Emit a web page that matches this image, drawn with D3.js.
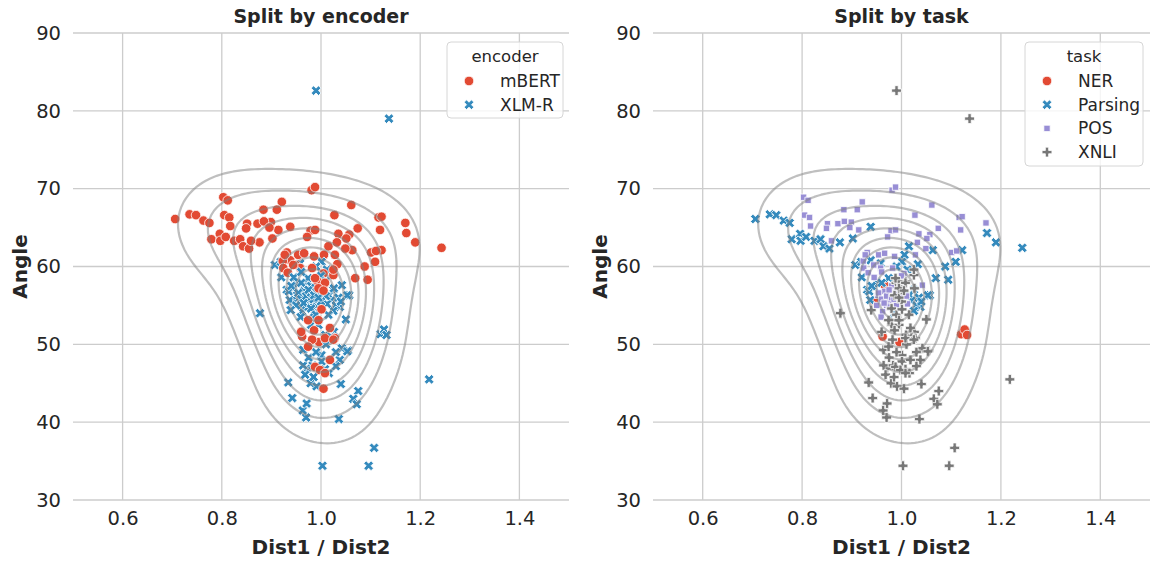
<!DOCTYPE html>
<html><head><meta charset="utf-8">
<script src="https://cdn.jsdelivr.net/npm/d3@7"></script>
<style>body{margin:0;background:#fff}svg{display:block;font-family:"DejaVu Sans",sans-serif}</style>
</head><body><svg id="c" width="1151" height="563"></svg>
<script>
// ---------------- data ----------------
const xTicks = [0.6, 0.8, 1.0, 1.2, 1.4];
const yTicks = [30, 40, 50, 60, 70, 80, 90];
const encoders = ["mBERT", "XLM-R"];
const tasks = ["NER", "Parsing", "POS", "XNLI"];

const mbertNER = [[0.962,51.0],[0.996,50.3]];
const xlmrNER = [[1.12,51.3],[1.127,51.9],[1.132,51.2],[0.966,57.6],[0.946,55.5]];

const mbertParsing = [[0.706,66.1],[0.735,66.7],[0.748,66.6],[0.763,65.9],[0.775,65.6],[0.779,63.5],[0.796,64.2],[0.797,63.3],[0.808,63.8],[0.825,63.3],[0.837,63.5],[0.843,62.6],[0.855,62.3],[0.876,63.1],[0.902,63.6],[0.938,65.1],[1.172,64.3],[1.19,63.1],[1.243,62.4],[1.015,62.6],[1.063,62.1],[1.122,62.1],[1.033,60.3],[1.109,60.6],[1.088,60.0],[1.006,61.5],[1.069,58.5],[1.094,58.3],[0.938,60.8]];
const xlmrParsing = [[0.907,60.2],[0.919,60.6],[0.958,60.4],[1.001,60.6],[1.012,59.6],[0.974,58.5],[1.057,56.3],[0.931,57.0],[0.937,55.7],[1.025,57.0],[1.038,54.8],[1.016,56.3],[1.053,56.3],[0.92,58.6],[0.95,58.0],[0.945,57.3],[0.99,60.0],[0.935,56.8],[0.94,57.5],[1.02,55.6],[1.03,55.0],[1.025,54.3],[1.035,56.0],[0.985,54.0],[0.96,57.9],[1.04,55.5]];

const mbertPOS = [[0.803,68.9],[0.812,68.5],[0.805,66.6],[0.815,66.3],[0.817,65.2],[0.851,65.5],[0.849,64.9],[0.872,65.5],[0.859,63.3],[0.981,69.8],[0.988,70.2],[0.921,68.3],[0.911,67.3],[0.884,67.3],[1.061,67.9],[1.027,66.6],[1.116,66.3],[1.122,66.4],[1.17,65.6],[1.074,64.9],[1.119,64.7],[0.899,65.7],[0.885,65.8],[0.914,64.7],[0.896,65.0],[0.979,64.6],[0.988,64.7],[0.972,63.8],[1.035,64.2],[1.057,64.1],[1.051,63.6],[1.049,62.3],[1.032,63.1],[1.101,61.8],[1.111,62.0],[0.931,61.8],[0.954,61.5],[0.966,61.7],[0.986,61.3],[0.949,60.2],[0.923,60.7],[0.958,59.8],[0.982,59.8],[0.924,59.8],[0.933,59.2],[0.927,61.5],[1.028,61.5],[0.944,60.2],[1.005,59.1]];
const xlmrPOS = [[0.966,56.8],[0.976,55.5],[0.999,55.7],[0.952,56.3],[0.962,54.2],[0.959,53.5],[1.042,57.6],[0.954,56.6],[0.988,56.6],[0.98,57.5],[0.97,55.0],[1.0,56.5],[0.99,55.0],[0.945,58.6],[0.96,59.3],[1.0,58.8],[1.012,55.2],[0.975,54.8],[0.96,55.8],[0.97,56.2],[0.98,56.0],[0.99,56.8],[1.005,57.3],[0.975,57.0],[0.965,55.3],[0.95,55.0],[0.985,55.8],[1.01,56.2]];

const mbertXNLI = [[1.025,58.9],[0.993,58.1],[1.008,57.9],[0.995,57.2],[1.005,56.9],[1.001,54.5],[0.974,53.1],[0.995,53.1],[0.986,51.8],[0.96,51.6],[1.018,52.1],[1.028,50.8],[0.982,50.6],[1.008,50.8],[1.025,50.6],[1.018,48.0],[0.988,47.1],[1.005,44.3],[0.974,49.7],[0.998,46.7],[1.008,46.3],[0.988,58.5],[1.025,59.6]];
const xlmrXNLI = [[0.99,82.6],[1.137,79.0],[1.218,45.5],[1.107,36.7],[1.003,34.4],[1.096,34.4],[1.036,40.4],[0.970,40.6],[0.963,41.5],[0.971,42.4],[0.942,43.1],[0.934,45.1],[0.979,45.0],[0.991,44.6],[1.04,44.9],[1.075,44.0],[1.065,43.0],[1.072,42.3],[0.964,49.3],[1.055,49.2],[1.042,49.5],[1.001,48.6],[1.038,48.0],[1.001,47.8],[0.971,46.9],[0.964,47.3],[1.008,46.8],[0.968,46.1],[0.877,54.0],[0.939,54.4],[1.05,53.2],[1.009,51.2],[1.026,51.6],[1.053,49.1],[0.983,47.3],[1.016,46.3],[0.986,56.3],[1.026,57.2],[0.989,57.9],[1.009,58.1],[0.98,52.5],[1.0,55.5],[0.975,48.3],[0.99,49.0],[1.03,47.2],[0.985,45.8],[0.995,56.0],[1.0,57.0],[0.98,54.6],[0.99,53.8],[1.015,53.8],[0.995,52.5],[1.02,51.0],[1.01,50.0],[1.03,49.0]];

// draw order: by task, then encoder
const groups = [
  {enc:"mBERT", task:"NER", pts:mbertNER},
  {enc:"XLM-R", task:"NER", pts:xlmrNER},
  {enc:"mBERT", task:"Parsing", pts:mbertParsing},
  {enc:"XLM-R", task:"Parsing", pts:xlmrParsing},
  {enc:"mBERT", task:"POS", pts:mbertPOS},
  {enc:"XLM-R", task:"POS", pts:xlmrPOS},
  {enc:"XLM-R", task:"XNLI", pts:xlmrXNLI},
  {enc:"mBERT", task:"XNLI", pts:mbertXNLI}
];
const rows = groups.flatMap(g => g.pts.map(p => ({x:p[0], y:p[1], enc:g.enc, task:g.task})));

// ---------------- styles ----------------
const palette = ["#E24A33", "#348ABD", "#988ED5", "#777777"];
const shapes = ["o", "X", "s", "P"];
const textColor = "#262626";
function symPath(shape) {
  if (shape === "o") return d3.symbol(d3.symbolCircle, 72)();
  if (shape === "X") return d3.symbol(d3.symbolCross, 60)();
  if (shape === "s") return d3.symbol(d3.symbolSquare, 40)();
  return d3.symbol(d3.symbolCross, 54)();
}
function symRot(shape) { return shape === "X" ? 45 : 0; }

const svg = d3.select("#c");
const yTop = 33, yBot = 500;
const panels = [
  {x0:73, x1:569, title:"Split by encoder", key:"enc", cats:encoders, legendTitle:"encoder",
   legend:{x:447, y:42, w:116, h:76}},
  {x0:653, x1:1150, title:"Split by task", key:"task", cats:tasks, legendTitle:"task",
   legend:{x:1025, y:42, w:118, h:124}}
];

// ---------------- KDE (product gaussian kernel, widened Scott bandwidth, equally spaced levels) ----------------
const bwAdjustX = 2.1, bwAdjustY = 1.6;
const n = rows.length;
const sdx = d3.deviation(rows, d => d.x), sdy = d3.deviation(rows, d => d.y);
const fac = Math.pow(n, -1/6);
const bwx = sdx * fac * bwAdjustX, bwy = sdy * fac * bwAdjustY;
const norm = 1 / (n * 2 * Math.PI * bwx * bwy);
const G = 140, cut = 3;
const gx0 = d3.min(rows, d=>d.x) - cut*bwx, gx1 = d3.max(rows, d=>d.x) + cut*bwx;
const gy0 = d3.min(rows, d=>d.y) - cut*bwy, gy1 = d3.max(rows, d=>d.y) + cut*bwy;
const dgx = (gx1-gx0)/(G-1), dgy = (gy1-gy0)/(G-1);
const dens = new Float64Array(G*G);
for (let j = 0; j < G; j++) {
  const yv = gy0 + j*dgy;
  for (let i = 0; i < G; i++) {
    const xv = gx0 + i*dgx;
    let s = 0;
    for (let k = 0; k < n; k++) {
      const ux = (xv - rows[k].x)/bwx, uy = (yv - rows[k].y)/bwy;
      s += Math.exp(-0.5*(ux*ux + uy*uy));
    }
    dens[j*G+i] = s * norm;
  }
}
const zmin = d3.min(dens), zmax = d3.max(dens);
const raw = (zmax - zmin) / 11;
const mag = Math.pow(10, Math.floor(Math.log10(raw)));
const step = [1, 2, 2.5, 5, 10].map(s => s*mag).find(s => s >= raw);
const levels = d3.range(Math.floor(zmin/step)*step, zmax + step, step).filter(l => l > zmin && l < zmax);
const contourSets = d3.contours().size([G, G]).thresholds(levels)(dens);

// ---------------- panels ----------------
panels.forEach((P, pi) => {
  const x = d3.scaleLinear().domain([0.5, 1.5]).range([P.x0, P.x1]);
  const y = d3.scaleLinear().domain([30, 90]).range([yBot, yTop]);
  const g = svg.append("g");

  g.append("g").selectAll("line").data(xTicks).join("line")
    .attr("x1", d => x(d)).attr("x2", d => x(d)).attr("y1", yTop).attr("y2", yBot)
    .attr("stroke", "#cccccc").attr("stroke-width", 1.3);
  g.append("g").selectAll("line").data(yTicks).join("line")
    .attr("x1", P.x0).attr("x2", P.x1).attr("y1", d => y(d)).attr("y2", d => y(d))
    .attr("stroke", "#cccccc").attr("stroke-width", 1.3);

  const xa = g.append("g").attr("transform", `translate(0,${yBot})`)
    .call(d3.axisBottom(x).tickValues(xTicks).tickFormat(d3.format(".1f")).tickSize(0).tickPadding(11));
  const ya = g.append("g").attr("transform", `translate(${P.x0},0)`)
    .call(d3.axisLeft(y).tickValues(yTicks).tickFormat(d3.format("d")).tickSize(0).tickPadding(12));
  [xa, ya].forEach(a => {
    a.select(".domain").remove();
    a.selectAll("text").attr("font-size", 19.5).attr("fill", textColor).attr("font-family", "DejaVu Sans");
  });

  g.append("text").attr("x", (P.x0+P.x1)/2).attr("y", 23).attr("text-anchor", "middle")
    .attr("font-size", 19).attr("font-weight", "bold").attr("fill", textColor).text(P.title);
  g.append("text").attr("x", (P.x0+P.x1)/2).attr("y", 554).attr("text-anchor", "middle")
    .attr("font-size", 20).attr("font-weight", "bold").attr("fill", textColor).text("Dist1 / Dist2");
  g.append("text").attr("transform", `translate(${P.x0-46},${(yTop+yBot)/2}) rotate(-90)`)
    .attr("text-anchor", "middle")
    .attr("font-size", 20).attr("font-weight", "bold").attr("fill", textColor).text("Angle");

  const idx = d => P.cats.indexOf(d[P.key]);
  g.append("g").selectAll("path").data(rows).join("path")
    .attr("d", d => symPath(shapes[idx(d)]))
    .attr("transform", d => `translate(${x(d.x)},${y(d.y)}) rotate(${symRot(shapes[idx(d)])})`)
    .attr("fill", d => palette[idx(d)])
    .attr("stroke", "#ffffff").attr("stroke-width", 0.8);

  const proj = d3.geoTransform({
    point: function(px, py) {
      this.stream.point(x(gx0 + (px-0.5)*dgx), y(gy0 + (py-0.5)*dgy));
    }
  });
  const path = d3.geoPath(proj);
  const clipId = "clip" + pi;
  svg.append("clipPath").attr("id", clipId).append("rect")
    .attr("x", P.x0).attr("y", yTop).attr("width", P.x1-P.x0).attr("height", yBot-yTop);
  g.append("g").attr("clip-path", `url(#${clipId})`).selectAll("path").data(contourSets).join("path")
    .attr("d", path).attr("fill", "none").attr("stroke", "#808080")
    .attr("stroke-opacity", 0.5).attr("stroke-width", 2.2).attr("stroke-linejoin", "round");

  const L = P.legend;
  const lg = g.append("g");
  lg.append("rect").attr("x", L.x).attr("y", L.y).attr("width", L.w).attr("height", L.h)
    .attr("rx", 4).attr("fill", "#ffffff").attr("fill-opacity", 0.8)
    .attr("stroke", "#d6d6d6").attr("stroke-width", 1);
  lg.append("text").attr("x", L.x + L.w/2).attr("y", L.y + 20).attr("text-anchor", "middle")
    .attr("font-size", 16.5).attr("fill", textColor).text(P.legendTitle);
  P.cats.forEach((c, k) => {
    const cy = L.y + 39 + k*23.7;
    lg.append("path").attr("d", symPath(shapes[k]))
      .attr("transform", `translate(${L.x+22},${cy}) rotate(${symRot(shapes[k])})`)
      .attr("fill", palette[k]).attr("stroke", "#ffffff").attr("stroke-width", 0.8);
    lg.append("text").attr("x", L.x + 53).attr("y", cy + 6)
      .attr("font-size", 17).attr("fill", textColor).text(c);
  });
});
</script></body></html>
